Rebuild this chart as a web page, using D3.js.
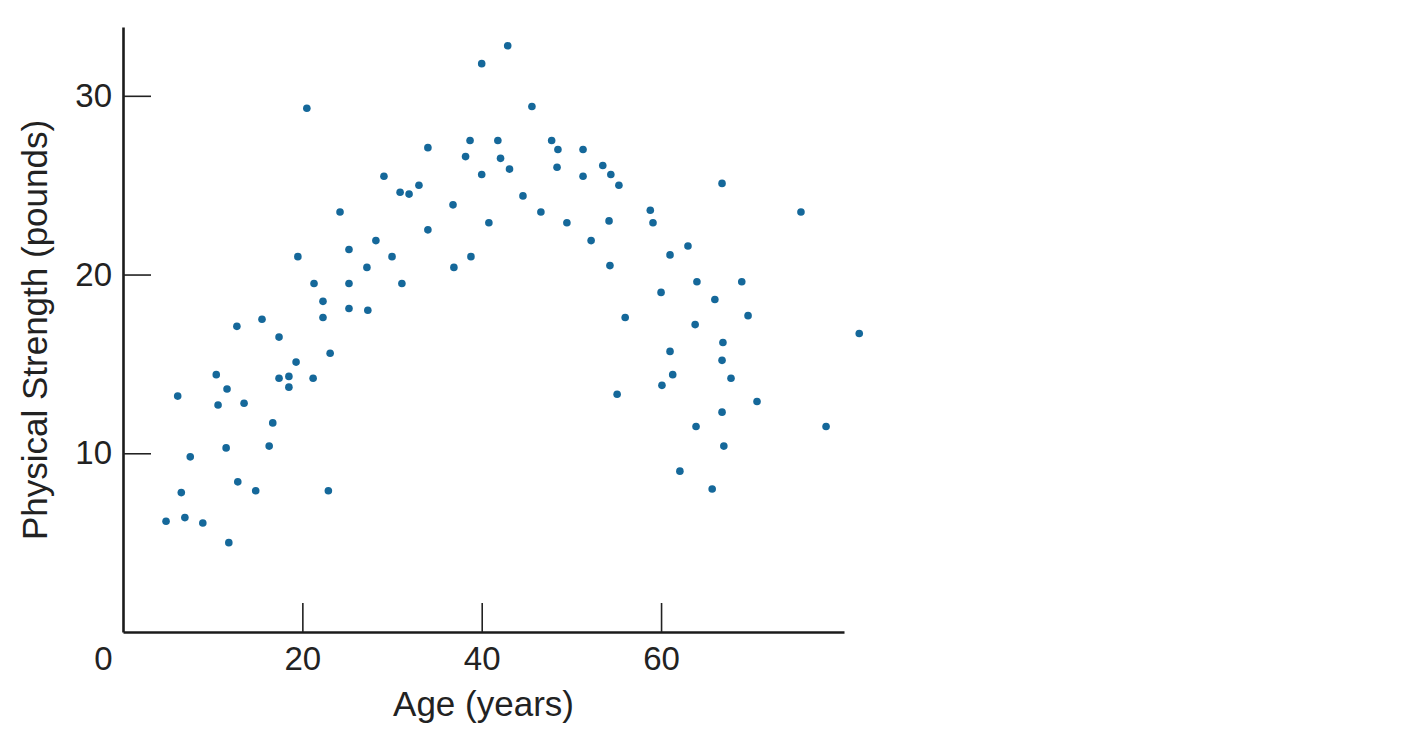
<!DOCTYPE html>
<html>
<head>
<meta charset="utf-8">
<script src="https://cdn.jsdelivr.net/npm/d3@7"></script>
<style>
	body { margin: 0; background: #fff; }
	text { font-family: "Liberation Sans", Arial, Helvetica, sans-serif; fill: #222; }
</style>
</head>
<body>
<div id="chart"></div>
<script>

//Age of each subject (years)
const ages = [
	4.8, 6.1, 6.5, 6.9, 7.5, 8.9, 10.4, 10.6, 11.5, 11.6,
	11.8, 12.7, 12.8, 13.5, 14.8, 15.5, 16.3, 16.7, 17.4, 17.4,
	18.5, 18.5, 19.3, 19.5, 20.5, 21.2, 21.3, 22.3, 22.3, 22.9,
	23.1, 24.2, 25.2, 25.2, 25.2, 27.2, 27.3, 28.2, 29.1, 30.0,
	30.9, 31.1, 31.9, 33.0, 34.0, 34.0, 36.8, 36.9, 38.2, 38.7,
	38.8, 40.0, 40.0, 40.8, 41.8, 42.1, 42.9, 43.1, 44.6, 45.6,
	46.6, 47.8, 48.5, 48.4, 49.5, 51.3, 51.3, 52.2, 53.5, 54.4,
	54.2, 54.3, 55.3, 55.1, 56.0, 58.8, 59.1, 60.0, 60.1, 61.0,
	61.0, 61.3, 62.1, 63.0, 64.0, 63.8, 63.9, 65.7, 66.0, 66.8,
	66.9, 66.8, 66.8, 67.0, 67.8, 69.0, 69.7, 70.7, 75.6, 78.4,
	82.1
];

//Physical strength of each subject (pounds)
const strengths = [
	6.2, 13.2, 7.8, 6.4, 9.8, 6.1, 14.4, 12.7, 10.3, 13.6,
	5.0, 17.1, 8.4, 12.8, 7.9, 17.5, 10.4, 11.7, 16.5, 14.2,
	14.3, 13.7, 15.1, 21.0, 29.3, 14.2, 19.5, 18.5, 17.6, 7.9,
	15.6, 23.5, 21.4, 19.5, 18.1, 20.4, 18.0, 21.9, 25.5, 21.0,
	24.6, 19.5, 24.5, 25.0, 27.1, 22.5, 23.9, 20.4, 26.6, 27.5,
	21.0, 31.8, 25.6, 22.9, 27.5, 26.5, 32.8, 25.9, 24.4, 29.4,
	23.5, 27.5, 27.0, 26.0, 22.9, 27.0, 25.5, 21.9, 26.1, 25.6,
	23.0, 20.5, 25.0, 13.3, 17.6, 23.6, 22.9, 19.0, 13.8, 21.1,
	15.7, 14.4, 9.0, 21.6, 19.6, 17.2, 11.5, 8.0, 18.6, 25.1,
	16.2, 15.2, 12.3, 10.4, 14.2, 19.6, 17.7, 12.9, 23.5, 11.5,
	16.7
];

//Tick labels
const xTicks = [0, 20, 40, 60];
const yTicks = [10, 20, 30];

const xTitle = "Age (years)",
	yTitle = "Physical Strength (pounds)";

const data = ages.map((a, i) => ({age: a, strength: strengths[i]}));

const width = 1410,
	height = 746,
	margin = {left: 123, top: 27},
	plotW = 721,
	plotH = 605;

const svg = d3.select("#chart").append("svg")
	.attr("width", width)
	.attr("height", height);

const g = svg.append("g")
	.attr("transform", "translate(" + margin.left + "," + margin.top + ")");

//Scales
const x = d3.scaleLinear()
	.domain([0, 80.4])
	.range([0, plotW]);

const y = d3.scaleLinear()
	.domain([0, 33.85])
	.range([plotH, 0]);

/////////////////////////////////////////////////////////
////////////////////// Axes /////////////////////////////
/////////////////////////////////////////////////////////

const tickFont = 33,
	titleFont = 35;

//x axis, ticks pointing up into the plot
const xAxis = g.append("g")
	.attr("transform", "translate(0," + plotH + ")")
	.call(d3.axisBottom(x)
		.tickValues(xTicks)
		.tickSizeInner(-29)
		.tickSizeOuter(0)
		.tickPadding(15)
		.tickFormat(d3.format("d")));

//y axis, ticks pointing right into the plot
const yAxis = g.append("g")
	.call(d3.axisLeft(y)
		.tickValues(yTicks)
		.tickSizeInner(-28)
		.tickSizeOuter(0)
		.tickPadding(11)
		.tickFormat(d3.format("d")));

[xAxis, yAxis].forEach(ax => {
	ax.select(".domain")
		.attr("stroke", "#1b1b1b")
		.attr("stroke-width", 2.6);
	ax.selectAll(".tick line")
		.attr("stroke", "#222")
		.attr("stroke-width", 1.6);
	ax.selectAll(".tick text")
		.attr("font-size", tickFont)
		.attr("font-family", null)
		.attr("fill", "#222");
});

//The origin tick: no tick mark, label shifted left of the corner
xAxis.selectAll(".tick")
	.filter(d => d === 0)
	.call(t => t.select("line").remove())
	.select("text")
	.attr("x", -20);

//Axis titles
g.append("text")
	.attr("x", plotW / 2)
	.attr("y", plotH + 84)
	.attr("text-anchor", "middle")
	.attr("font-size", titleFont)
	.text(xTitle);

svg.append("text")
	.attr("transform", "translate(47," + 330 + ") rotate(-90)")
	.attr("text-anchor", "middle")
	.attr("font-size", titleFont)
	.text(yTitle);

/////////////////////////////////////////////////////////
////////////////////// Points ///////////////////////////
/////////////////////////////////////////////////////////

g.selectAll(".dot")
	.data(data)
	.enter().append("circle")
	.attr("class", "dot")
	.attr("cx", d => x(d.age))
	.attr("cy", d => y(d.strength))
	.attr("r", 3.8)
	.style("fill", "#15689a");

</script>
</body>
</html>
